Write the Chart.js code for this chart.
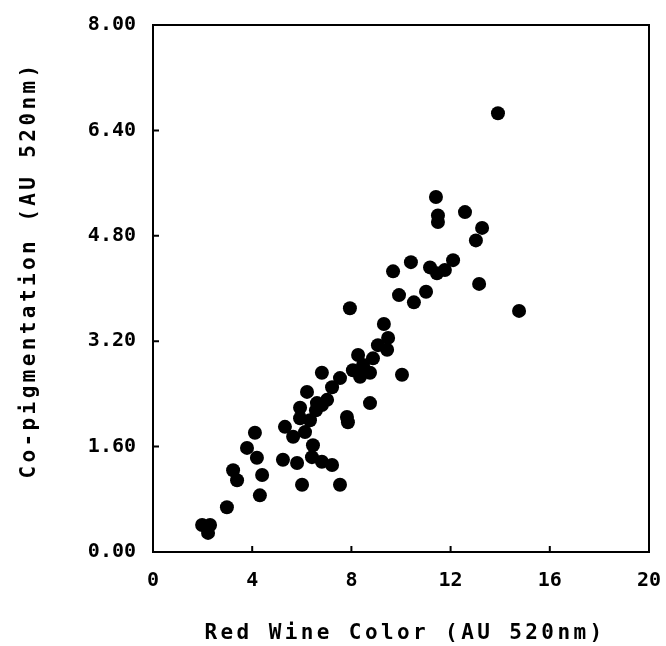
<!DOCTYPE html>
<html>
<head>
<meta charset="utf-8">
<script src="https://cdn.jsdelivr.net/npm/chart.js@4/dist/chart.umd.min.js"></script>
<style>
  html, body { margin: 0; background: #fff; overflow: hidden; }
  #wrap { width: 666px; height: 646px; }
</style>
</head>
<body>
<div id="wrap"><canvas id="scatterChart"></canvas></div>
<script>
// Red wine colour vs co-pigmentation
const wineColor = [
  13.91, 11.41, 11.49, 11.49, 12.58, 13.27, 13.02, 9.68, 10.40, 11.17,
  11.45, 11.77, 12.10, 13.15, 9.92, 10.52, 11.01, 7.94, 14.76, 9.31,
  9.48, 9.44, 8.27, 8.87, 6.81, 8.06, 8.35, 8.75, 10.04, 7.54,
  6.21, 7.22, 7.02, 6.61, 8.75, 5.93, 6.81, 7.82, 7.86, 5.93,
  5.32, 5.65, 6.13, 4.11, 3.79, 4.19, 5.24, 5.81, 6.45, 6.41,
  6.81, 7.22, 3.23, 3.39, 4.40, 6.01, 7.54, 4.31, 2.98, 1.98,
  2.22, 2.30, 6.57, 6.33, 8.47, 9.07
];
const copigmentation = [
  6.66, 5.39, 5.11, 5.01, 5.16, 4.92, 4.73, 4.26, 4.40, 4.32,
  4.23, 4.28, 4.43, 4.07, 3.90, 3.79, 3.95, 3.70, 3.66, 3.46,
  3.25, 3.07, 2.99, 2.94, 2.72, 2.76, 2.66, 2.72, 2.69, 2.64,
  2.43, 2.50, 2.31, 2.26, 2.26, 2.19, 2.23, 2.05, 1.97, 2.03,
  1.90, 1.75, 1.82, 1.81, 1.58, 1.43, 1.40, 1.35, 1.62, 1.44,
  1.37, 1.32, 1.24, 1.09, 1.17, 1.02, 1.02, 0.86, 0.68, 0.41,
  0.29, 0.41, 2.15, 2.00, 2.84, 3.14
];
const xTicks = [0, 4, 8, 12, 16, 20];
const yTicks = [0, 1.6, 3.2, 4.8, 6.4, 8];
const xTitle = 'Red Wine Color (AU 520nm)';
const yTitle = 'Co-pigmentation (AU 520nm)';

const points = wineColor.map((x, i) => ({ x: x, y: copigmentation[i] }));
const monoFont = '"DejaVu Sans Mono", "Liberation Mono", monospace';

// frame, inward tick marks and spaced-out axis titles
const framePlugin = {
  id: 'frame',
  afterDraw(chart) {
    const ctx = chart.ctx;
    const a = chart.chartArea;
    const xs = chart.scales.x, ys = chart.scales.y;
    ctx.save();
    ctx.strokeStyle = '#000';
    ctx.lineWidth = 2;
    ctx.strokeRect(a.left, a.top, a.right - a.left, a.bottom - a.top);
    ctx.beginPath();
    xTicks.forEach(v => {
      const px = xs.getPixelForValue(v);
      ctx.moveTo(px, a.bottom);
      ctx.lineTo(px, a.bottom - 6);
    });
    yTicks.forEach(v => {
      const py = ys.getPixelForValue(v);
      ctx.moveTo(a.left, py);
      ctx.lineTo(a.left + 6, py);
    });
    ctx.stroke();

    ctx.fillStyle = '#000';
    ctx.font = 'bold 21px ' + monoFont;
    ctx.letterSpacing = '3.4px';
    ctx.textAlign = 'center';
    ctx.textBaseline = 'middle';
    ctx.fillText(xTitle, 405, 634);
    ctx.translate(30, 270);
    ctx.rotate(-Math.PI / 2);
    ctx.fillText(yTitle, 0, 0);
    ctx.restore();
  }
};

const ctxScatter = document.getElementById('scatterChart').getContext('2d');
const scatterChart = new Chart(ctxScatter, {
  type: 'scatter',
  data: {
    datasets: [{
      data: points,
      backgroundColor: '#000',
      borderWidth: 0,
      pointRadius: 7,
      pointHoverRadius: 7
    }]
  },
  options: {
    responsive: true,
    maintainAspectRatio: false,
    animation: false,
    layout: { padding: { left: 0, right: 17, top: 25, bottom: 0 } },
    plugins: { legend: { display: false }, tooltip: { enabled: false } },
    scales: {
      x: {
        type: 'linear',
        min: 0,
        max: 20,
        afterFit: s => { s.height = 94; s.paddingRight = 0; s.paddingLeft = 0; },
        afterBuildTicks: s => { s.ticks = xTicks.map(v => ({ value: v })); },
        grid: { display: false, drawTicks: false },
        border: { display: false },
        ticks: {
          padding: 17,
          color: '#000',
          font: { family: monoFont, size: 20, weight: 'bold' },
          maxRotation: 0
        }
      },
      y: {
        type: 'linear',
        min: 0,
        max: 8,
        afterFit: s => { s.width = 153; s.paddingTop = 0; s.paddingBottom = 0; },
        afterBuildTicks: s => { s.ticks = yTicks.map(v => ({ value: v })); },
        grid: { display: false, drawTicks: false },
        border: { display: false },
        ticks: {
          padding: 17,
          color: '#000',
          font: { family: monoFont, size: 20, weight: 'bold' },
          callback: v => Number(v).toFixed(2)
        }
      }
    }
  },
  plugins: [framePlugin]
});
</script>
</body>
</html>
